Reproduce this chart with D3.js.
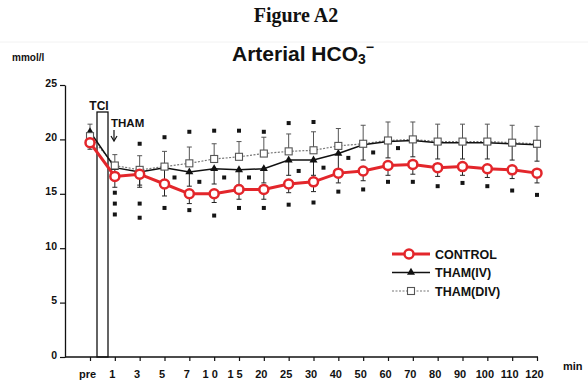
<!DOCTYPE html>
<html>
<head>
<meta charset="utf-8">
<script src="https://cdn.jsdelivr.net/npm/d3@7"></script>
<style>
  body { margin: 0; background: #fff; }
  text { font-family: "Liberation Sans", Arial, sans-serif; fill: #111; }
</style>
</head>
<body>
<svg id="chart" width="588" height="385"></svg>
<script>
// time points (categorical x axis)
const times = ["pre", "1", "3", "5", "7", "10", "15", "20", "25", "30", "40", "50", "60", "70", "80", "90", "100", "110", "120"];
const yTicks = [0, 5, 10, 15, 20, 25];

// mean HCO3- (mmol/l)
const control = [19.7, 16.6, 16.8, 15.9, 15.0, 15.0, 15.4, 15.4, 15.9, 16.1, 16.9, 17.1, 17.6, 17.7, 17.4, 17.5, 17.3, 17.2, 16.9];
const thamIV  = [20.7, 17.4, 17.0, 17.4, 17.0, 17.3, 17.2, 17.3, 18.1, 18.1, 18.7, 19.5, 19.8, 19.9, 19.7, 19.7, 19.7, 19.6, 19.5];
const thamDIV = [20.3, 17.6, 17.2, 17.5, 17.8, 18.2, 18.4, 18.7, 18.9, 19.0, 19.4, 19.6, 19.9, 20.0, 19.8, 19.8, 19.8, 19.7, 19.6];

// error bars (SD)
const controlSD = [0.6, 1.0, 1.2, 1.1, 0.9, 0.8, 0.9, 0.9, 0.8, 0.9, 0.9, 0.9, 0.9, 0.9, 0.8, 0.8, 0.8, 0.8, 0.9];
const thamIVSD  = [1.0, 1.0, 1.2, 1.5, 1.3, 1.4, 1.4, 1.3, 1.4, 1.4, 1.5, 1.4, 1.5, 1.5, 1.5, 1.5, 1.5, 1.5, 1.5];
const thamDIVSD = [1.1, 1.0, 1.3, 1.4, 1.5, 1.4, 1.4, 1.5, 1.6, 1.7, 1.6, 1.7, 1.7, 1.6, 1.6, 1.6, 1.6, 1.6, 1.6];

// significance marks [time, level]
const sigTop = [["3", 19.6], ["5", 20.2], ["7", 20.7], ["10", 20.8], ["15", 20.8], ["20", 20.7], ["25", 21.5], ["30", 21.6]];
const sigMid = [["5", 16.5], ["7", 16.1], ["10", 16.5], ["15", 16.5], ["25", 17.1], ["30", 17.4], ["40", 18.3], ["50", 18.8], ["60", 19.2]];
const sigBottom = [["1", 15.1], ["1", 14.1], ["1", 13.1], ["3", 14.1], ["3", 12.8], ["5", 13.7], ["7", 13.5], ["10", 13.0],
  ["15", 13.7], ["20", 13.7], ["25", 14.0], ["30", 14.2], ["40", 15.2], ["50", 15.4], ["60", 16.1], ["70", 16.1],
  ["80", 15.7], ["90", 16.0], ["100", 15.7], ["110", 15.3], ["120", 14.9]];

const svg = d3.select('#chart');

const x = d3.scalePoint().domain(times).range([90, 537]);
const y = d3.scaleLinear().domain([0, 25]).range([357, 85]);

// titles
svg.append('text')
  .attr('x', 296).attr('y', 22)
  .attr('text-anchor', 'middle')
  .style('font-family', '"Liberation Serif", "Times New Roman", serif')
  .style('font-weight', 'bold')
  .style('font-size', '20px')
  .text('Figure A2');

svg.append('line')
  .attr('x1', 0).attr('x2', 588).attr('y1', 42).attr('y2', 42)
  .attr('stroke', '#f2f2f2');

const sub = svg.append('text')
  .attr('x', 232).attr('y', 61)
  .style('font-size', '21px')
  .style('font-weight', 'bold');
sub.append('tspan').text('Arterial HCO');
sub.append('tspan').attr('dy', 3).style('font-size', '14px').text('3');
sub.append('tspan').attr('dy', -12).style('font-size', '14px').text('\u2212');

svg.append('text')
  .attr('x', 12).attr('y', 61)
  .style('font-size', '10px').style('font-weight', 'bold')
  .text('mmol/l');

// y axis
const yAxis = svg.append('g')
  .attr('transform', 'translate(65,0)')
  .call(d3.axisLeft(y).tickValues(yTicks).tickSize(5).tickSizeOuter(0));
yAxis.select('.domain').attr('stroke', '#111').attr('stroke-width', 1.3);
yAxis.selectAll('.tick line').attr('stroke', '#111').attr('stroke-width', 1.2);
yAxis.selectAll('.tick text')
  .attr('x', -8).attr('dy', '0.1em')
  .style('font-size', '10.5px').style('font-weight', 'bold')
  .style('font-family', '"Liberation Sans", Arial, sans-serif');

// x axis
const xAxis = svg.append('g')
  .attr('transform', 'translate(0,357)')
  .call(d3.axisBottom(x).tickSize(4).tickSizeOuter(0));
xAxis.select('.domain').remove();
xAxis.append('line')
  .attr('x1', 65).attr('x2', 538)
  .attr('stroke', '#111').attr('stroke-width', 1.3);
xAxis.selectAll('.tick line').attr('stroke', '#111').attr('stroke-width', 1.2);
xAxis.selectAll('.tick text')
  .attr('y', 13).attr('dx', -3)
  .style('font-size', '11px').style('font-weight', 'bold')
  .style('font-family', '"Liberation Sans", Arial, sans-serif')
  .style('letter-spacing', d => (d === '10' || d === '15') ? '3px' : '0px');

svg.append('text')
  .attr('x', 563).attr('y', 370)
  .style('font-size', '11px').style('font-weight', 'bold')
  .text('min');

// TCI box
svg.append('rect')
  .attr('x', 97).attr('y', 112)
  .attr('width', 11).attr('height', 357 - 112)
  .attr('fill', 'none').attr('stroke', '#111').attr('stroke-width', 1.3);
svg.append('text')
  .attr('x', 99).attr('y', 110).attr('text-anchor', 'middle')
  .style('font-size', '12px').style('font-weight', 'bold')
  .text('TCI');
svg.append('text')
  .attr('x', 111).attr('y', 127)
  .style('font-size', '11.5px').style('font-weight', 'bold')
  .text('THAM');
svg.append('line')
  .attr('x1', 114).attr('x2', 114).attr('y1', 130).attr('y2', 140)
  .attr('stroke', '#111').attr('stroke-width', 1.2);
svg.append('path')
  .attr('d', 'M111,136 L114,141 L117,136')
  .attr('fill', 'none').attr('stroke', '#111').attr('stroke-width', 1.2);

// error bars
function errorBars(vals, sds, dir, color) {
  const g = svg.append('g').attr('stroke', color).attr('stroke-width', 1);
  times.forEach((t, i) => {
    const y0 = y(vals[i]);
    const y1 = y(vals[i] + dir * sds[i]);
    g.append('line').attr('x1', x(t)).attr('x2', x(t)).attr('y1', y0).attr('y2', y1);
    g.append('line').attr('x1', x(t) - 2.5).attr('x2', x(t) + 2.5).attr('y1', y1).attr('y2', y1);
  });
}
errorBars(thamDIV, thamDIVSD, 1, '#555');
errorBars(thamIV, thamIVSD, -1, '#222');
errorBars(control, controlSD, -1, '#222');

// significance marks
function sigMarks(list, dx) {
  svg.append('g').selectAll('rect')
    .data(list).enter().append('rect')
    .attr('x', d => x(d[0]) + dx - 2)
    .attr('y', d => y(d[1]) - 2)
    .attr('width', 4).attr('height', 4)
    .attr('fill', '#151515');
}
sigMarks(sigTop, 0);
sigMarks(sigMid, 10);
sigMarks(sigBottom, 0);

// lines
const line = vals => d3.line().x((d, i) => x(times[i])).y(d => y(d))(vals);

svg.append('path').attr('d', line(thamDIV))
  .attr('fill', 'none').attr('stroke', '#777').attr('stroke-width', 1.2)
  .attr('stroke-dasharray', '2,1.5');
svg.append('path').attr('d', line(thamIV))
  .attr('fill', 'none').attr('stroke', '#111').attr('stroke-width', 1.5);
svg.append('path').attr('d', line(control))
  .attr('fill', 'none').attr('stroke', '#e3262b').attr('stroke-width', 3);

// markers
const tri = d3.symbol().type(d3.symbolTriangle).size(28);
svg.append('g').selectAll('path')
  .data(thamIV).enter().append('path')
  .attr('d', tri)
  .attr('transform', (d, i) => `translate(${x(times[i])},${y(d)})`)
  .attr('fill', '#111');

svg.append('g').selectAll('rect')
  .data(thamDIV).enter().append('rect')
  .attr('x', (d, i) => x(times[i]) - 3.5)
  .attr('y', d => y(d) - 3.5)
  .attr('width', 7).attr('height', 7)
  .attr('fill', '#fff').attr('stroke', '#555').attr('stroke-width', 1.1);

svg.append('g').selectAll('circle')
  .data(control).enter().append('circle')
  .attr('cx', (d, i) => x(times[i]))
  .attr('cy', d => y(d))
  .attr('r', 4.5)
  .attr('fill', '#fff').attr('stroke', '#e3262b').attr('stroke-width', 2.5);

// legend
const legend = [
  {name: 'CONTROL', color: '#e3262b', width: 3, dash: null, mark: 'circle'},
  {name: 'THAM(IV)', color: '#111', width: 1.3, dash: null, mark: 'tri'},
  {name: 'THAM(DIV)', color: '#777', width: 1.1, dash: '2,1.5', mark: 'square'}
];
const lg = svg.append('g').attr('transform', 'translate(392,254)');
legend.forEach((s, i) => {
  const row = lg.append('g').attr('transform', `translate(0,${i * 18.5})`);
  row.append('line').attr('x1', 0).attr('x2', 38)
    .attr('stroke', s.color).attr('stroke-width', s.width)
    .attr('stroke-dasharray', s.dash);
  if (s.mark === 'circle') {
    row.append('circle').attr('cx', 17).attr('r', 4.5)
      .attr('fill', '#fff').attr('stroke', s.color).attr('stroke-width', 2.5);
  } else if (s.mark === 'tri') {
    row.append('path').attr('d', tri).attr('transform', 'translate(19,0)').attr('fill', '#111');
  } else {
    row.append('rect').attr('x', 15.5).attr('y', -3.5).attr('width', 7).attr('height', 7)
      .attr('fill', '#fff').attr('stroke', '#555').attr('stroke-width', 1.1);
  }
  row.append('text').attr('x', 43).attr('y', 4.5)
    .style('font-size', '12.5px').style('font-weight', 'bold')
    .text(s.name);
});
</script>
</body>
</html>
